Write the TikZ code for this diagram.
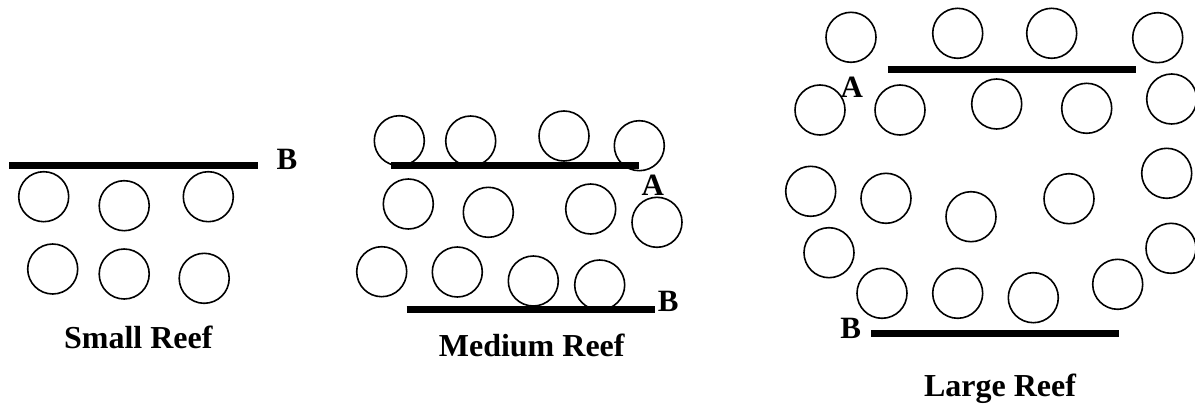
\documentclass[tikz,border=0pt]{standalone}
\usepackage{fontspec}
\setmainfont{Liberation Serif}
\begin{document}
\begin{tikzpicture}[x=1pt,y=-1pt,
  reef/.style={circle,draw,line width=1.6pt,minimum size=50pt,inner sep=0pt},
  bar/.style={line width=7pt},
  lbl/.style={font=\fontsize{31}{32}\selectfont\bfseries,inner sep=0pt},
  title/.style={font=\fontsize{32}{34}\selectfont\bfseries,inner sep=0pt}]
\useasboundingbox (0,0) rectangle (1195,404);
% Small reef
\coordinate (s1) at (9,165.3); \coordinate (s2) at (258,165.3);
\draw[bar] (s1) -- (s2);
\node[lbl] (sB) at (287,159) {B};
\node[reef] (sa) at (43.7,196.7) {};
\node[reef] (sb) at (124.2,205.7) {};
\node[reef] (sc) at (208.3,196.7) {};
\node[reef] (sd) at (52.7,269) {};
\node[reef] (se) at (124.2,274) {};
\node[reef] (sf) at (204.2,278.3) {};
\node[title] (st) at (138.3,337) {Small Reef};
% Medium reef
\node[reef] (m1) at (399.3,140.7) {};
\node[reef] (m2) at (470.7,141) {};
\node[reef] (m3) at (564,136) {};
\node[reef] (m4) at (639.3,145.7) {};
\node[reef] (m5) at (408.3,204) {};
\node[reef] (m6) at (488.3,212.3) {};
\node[reef] (m7) at (590.7,209) {};
\node[reef] (m8) at (657,222.3) {};
\node[reef] (m9) at (381.7,271.7) {};
\node[reef] (m10) at (457.3,272) {};
\node[reef] (m11) at (533.3,281) {};
\node[reef] (m12) at (599.7,285) {};
\coordinate (ma1) at (390.7,165.7); \coordinate (ma2) at (639,165.7);
\draw[bar] (ma1) -- (ma2);
\coordinate (mb1) at (406.7,309.3); \coordinate (mb2) at (655,309.3);
\draw[bar] (mb1) -- (mb2);
\node[lbl] (mA) at (652.7,185) {A};
\node[lbl] (mB) at (668.3,301.7) {B};
\node[title] (mt) at (531.7,345.5) {Medium Reef};
% Large reef
\node[reef] (l1) at (851,37.3) {};
\node[reef] (l2) at (957.7,33.3) {};
\node[reef] (l3) at (1051.7,33.3) {};
\node[reef] (l4) at (1157.7,37.7) {};
\node[reef] (l5) at (820,110) {};
\node[reef] (l6) at (900,110) {};
\node[reef] (l7) at (996.7,104) {};
\node[reef] (l8) at (1086.7,108.3) {};
\node[reef] (l9) at (1171.7,99) {};
\node[reef] (l10) at (810.7,191.3) {};
\node[reef] (l11) at (886,198.3) {};
\node[reef] (l12) at (971,216.7) {};
\node[reef] (l13) at (1069,198.7) {};
\node[reef] (l14) at (1166.7,173.3) {};
\node[reef] (l15) at (829,252.7) {};
\node[reef] (l16) at (1171,248.3) {};
\node[reef] (l17) at (882,293.3) {};
\node[reef] (l18) at (957.7,293.3) {};
\node[reef] (l19) at (1033.3,297.7) {};
\node[reef] (l20) at (1117.7,284.3) {};
\coordinate (la1) at (887.7,69.3); \coordinate (la2) at (1136,69.3);
\draw[bar] (la1) -- (la2);
\coordinate (lb1) at (871,333.3); \coordinate (lb2) at (1119.3,333.3);
\draw[bar] (lb1) -- (lb2);
\node[lbl] (lA) at (851.7,87.3) {A};
\node[lbl] (lB) at (850.7,328.3) {B};
\node[title] (lt) at (1000,389) {Large Reef};
\end{tikzpicture}
\end{document}
